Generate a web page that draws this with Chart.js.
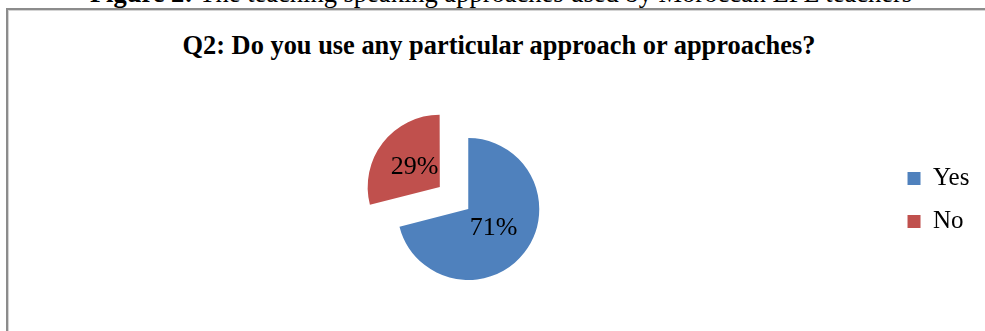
<!DOCTYPE html>
<html>
<head>
<meta charset="utf-8">
<script src="https://cdn.jsdelivr.net/npm/chart.js@4.4.1/dist/chart.umd.min.js"></script>
<style>
  html, body { margin: 0; padding: 0; background: #fff; overflow: hidden; }
  body { width: 985px; height: 331px; position: relative; font-family: "Liberation Serif", "Times New Roman", serif; color: #000; }
  .caption { position: absolute; left: 0; top: -19px; width: 1002px; text-align: center; font-size: 26.5px; line-height: 24px; white-space: nowrap; }
  .frame { position: absolute; left: 6px; top: 8px; width: 1000px; height: 400px; border: 2px solid #8c8c8c; box-shadow: inset 1px 1px 0 #d4d4d4; }
  .chart-title { position: absolute; left: 0; top: 29.5px; width: 998px; text-align: center; font-size: 26.4px; line-height: 30px; font-weight: bold; white-space: nowrap; }
  #wrap { position: absolute; left: 0; top: 0; width: 985px; height: 420px; }
</style>
</head>
<body>
<div class="caption"><b>Figure 2:</b> The teaching speaking approaches used by Moroccan EFL teachers</div>
<div class="frame"></div>
<div class="chart-title">Q2: Do you use any particular approach or approaches?</div>
<div id="wrap"><canvas id="approachChart"></canvas></div>

<script>
// ---------- data ----------
const answers = ["Yes", "No"];
const shares = [71, 29];
const sliceColors = ["#4F81BD", "#C0504D"];

// Chart.js v4 moves an offset arc by a quarter of its offset value,
// so 144 pulls the "No" slice out by 36px
const EXPLODE = 144;

const SERIF = "'Liberation Serif', 'Times New Roman', serif";

// ---------- percentage labels inside the slices ----------
const sliceLabels = {
  id: "sliceLabels",
  afterDatasetsDraw(chart) {
    const ctx = chart.ctx;
    const meta = chart.getDatasetMeta(0);
    ctx.save();
    ctx.font = "26px " + SERIF;
    ctx.fillStyle = "#000";
    ctx.textAlign = "center";
    ctx.textBaseline = "middle";
    meta.data.forEach((arc, i) => {
      const p = arc.getProps(["x", "y", "startAngle", "endAngle", "outerRadius"], true);
      const mid = (p.startAngle + p.endAngle) / 2;
      const dist = (arc.options.offset || 0) / 4 + p.outerRadius * 0.45;
      ctx.fillText(shares[i] + "%", p.x + Math.cos(mid) * dist, p.y + Math.sin(mid) * dist);
    });
    ctx.restore();
  }
};

// ---------- pie ----------
const ctx = document.getElementById("approachChart").getContext("2d");
new Chart(ctx, {
  type: "pie",
  data: {
    labels: answers,
    datasets: [
      {
        data: shares,
        backgroundColor: sliceColors,
        borderWidth: 0,
        offset: answers.map((a) => (a === "No" ? EXPLODE : 0))
      }
    ]
  },
  options: {
    responsive: true,
    maintainAspectRatio: false,
    animation: false,
    radius: 71,
    layout: { padding: { left: 47, right: 5.6, top: 60, bottom: 62 } },
    plugins: {
      title: { display: false },
      legend: {
        position: "right",
        align: "start",
        title: { display: true, text: "", font: { size: 10 }, padding: { top: 76, bottom: 0 } },
        labels: {
          boxWidth: 13,
          boxHeight: 13,
          padding: 18,
          color: "#000",
          font: { family: SERIF, size: 25 }
        }
      },
      tooltip: { enabled: false }
    }
  },
  plugins: [sliceLabels]
});
</script>
</body>
</html>
